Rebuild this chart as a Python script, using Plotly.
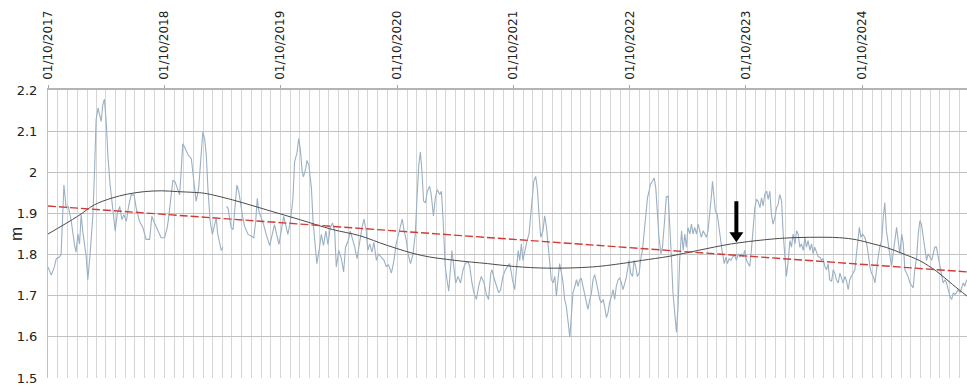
import pandas as pd
import plotly.graph_objects as go

# Daily-sampled water level record, expressed as days since 1 October 2017
START = pd.Timestamp("2017-10-01")

level_days = [
    0, 10, 20, 26, 36, 41, 50, 57, 64, 73, 83, 88, 94, 99, 104, 109, 120, 125, 132, 141,
    146, 151, 157, 162, 167, 172, 177, 183, 188, 195, 204, 211, 217, 225, 232, 238, 246, 253, 261, 270,
    277, 287, 298, 308, 319, 326, 332, 345, 355, 366, 374, 378, 387, 392, 399, 406, 413, 418, 423, 429,
    434, 441, 450, 458, 465, 473, 481, 486,
    492, 497, 502, 509, 516, 523, 528, 533, 539, 544, 549, 554, 560, 565, 570, 575, 581, 586, 593, 599,
    604, 610, 617, 628, 638, 646, 652, 657, 662, 669, 677, 685, 696, 704, 711, 719, 725, 732, 740, 746,
    753, 761, 769, 774, 782, 787, 792, 798, 802, 809, 813, 819, 827, 832, 837, 844, 851, 858, 865, 872,
    879, 886, 893, 900, 905, 913, 921, 928, 934, 942, 949, 955, 963, 970,
    978, 986, 992, 999, 1004, 1010, 1017, 1023, 1031, 1038, 1046, 1055, 1062, 1069, 1078, 1086, 1093, 1101,
    1107, 1112, 1118, 1125, 1130, 1138, 1146, 1153, 1159, 1164, 1169, 1174, 1179, 1185, 1191, 1198, 1203,
    1210, 1216, 1222, 1230, 1235, 1240, 1243, 1247, 1254, 1258, 1264, 1268, 1275, 1280, 1287, 1295, 1303,
    1310, 1319, 1324, 1331, 1337, 1345, 1352, 1360, 1369, 1376, 1383, 1390, 1394, 1400, 1408, 1415, 1421,
    1428, 1436, 1442, 1449, 1455,
    1458, 1465, 1470, 1476, 1481, 1486, 1491, 1497, 1504, 1510, 1517, 1525, 1531, 1536, 1542, 1547, 1554,
    1559, 1565, 1570, 1575, 1580, 1586, 1591, 1596, 1601, 1606, 1612, 1617, 1622, 1627, 1633, 1638, 1643,
    1648, 1654, 1659, 1664, 1669, 1674, 1680, 1685, 1690, 1695, 1701, 1706, 1711, 1716, 1722, 1727, 1732,
    1737, 1743, 1748, 1753, 1758, 1763, 1769, 1774, 1779, 1784, 1790, 1795, 1800, 1805, 1811, 1816, 1821,
    1824, 1829, 1835, 1840, 1845, 1850, 1856, 1860, 1866, 1871, 1877, 1882, 1887, 1891, 1897, 1903, 1908,
    1913, 1918, 1924, 1929, 1934,
    1941, 1947, 1952, 1957, 1962, 1968, 1973, 1978, 1983, 1989, 1994, 1999, 2004, 2009, 2015, 2020, 2025,
    2030, 2036, 2041, 2046, 2051, 2057, 2062, 2067, 2072, 2078, 2083, 2086, 2091, 2095, 2101, 2106, 2111,
    2116, 2123, 2128, 2133, 2138, 2144, 2149, 2156, 2161, 2167, 2172, 2177, 2182, 2187, 2193, 2198, 2203,
    2208, 2214, 2219, 2224, 2229, 2235, 2240, 2245, 2250, 2256, 2261, 2266, 2271, 2276, 2282, 2287, 2292,
    2297, 2303, 2308, 2313, 2318, 2324, 2329, 2334, 2339, 2345, 2350, 2355, 2360, 2365, 2371, 2376, 2381,
    2386, 2392, 2397, 2402, 2407, 2413, 2418,
    2423, 2428, 2433, 2439, 2444, 2449, 2454, 2460, 2465, 2470, 2475, 2481, 2486, 2491, 2496, 2502, 2507,
    2512, 2517, 2522, 2528, 2533, 2538, 2543, 2547, 2552, 2557, 2564, 2570, 2575, 2580, 2585, 2591, 2596,
    2601, 2606, 2611, 2617, 2622, 2627, 2632, 2638, 2643, 2648, 2653, 2659, 2664, 2669, 2674, 2680, 2685,
    2690, 2695, 2700, 2706, 2711, 2716, 2721, 2727, 2732, 2737, 2742, 2748, 2753, 2758, 2763, 2768, 2774,
    2779, 2784, 2789, 2795, 2800, 2805, 2810, 2816, 2821, 2826, 2831, 2837, 2842, 2847, 2852, 2857, 2863,
    2868, 2873, 2878, 2884,
]

# Level in metres; None marks the short gap in the record
level_m = [
    1.770, 1.750, 1.770, 1.790, 1.794, 1.800, 1.969, 1.913, 1.917, 1.881, 1.825, 1.806, 1.850, 1.825, 1.897, 1.857, 1.794, 1.739, 1.800, 1.897,
    2.000, 2.128, 2.156, 2.140, 2.124, 2.164, 2.178, 2.120, 2.040, 1.969, 1.897, 1.857, 1.897, 1.917, 1.885, 1.897, 1.881, 1.917, 1.945, 1.945,
    1.913, 1.881, 1.865, 1.837, 1.837, 1.893, 1.881, 1.857, 1.841, 1.841, 1.865, 1.885, 1.957, 1.981, 1.977, 1.961, 1.945, 2.001, 2.069, 2.061,
    2.053, 2.041, 2.033, 1.969, 1.929, 1.961, 2.041, 2.098,
    2.080, 2.040, 1.961, 1.881, 1.849, 1.869, 1.889, 1.849, 1.825, 1.810, 1.818, None, 1.917, 1.913, 1.889, 1.865, 1.861, 1.913, 1.969, 1.953,
    1.921, 1.897, 1.869, 1.849, 1.845, 1.841, 1.881, 1.937, 1.905, 1.889, 1.873, 1.849, 1.822, 1.849, 1.873, 1.845, 1.825, 1.857, 1.893, 1.873,
    1.849, 1.881, 1.937, 2.025, 2.049, 2.082, 2.057, 2.001, 1.989, 2.009, 2.029, 2.017, 1.961, 1.881, 1.841, 1.778, 1.810, 1.849, 1.822, 1.857,
    1.825, 1.865, 1.877, 1.857, 1.770, 1.810, 1.790, 1.758, 1.818, 1.833, 1.857, 1.841, 1.818, 1.790,
    1.834, 1.866, 1.886, 1.858, 1.810, 1.826, 1.806, 1.830, 1.786, 1.802, 1.794, 1.786, 1.771, 1.775, 1.755, 1.786, 1.826, 1.850,
    1.866, 1.886, 1.858, 1.834, 1.802, 1.778, 1.802, 1.850, 1.946, 2.018, 2.049, 2.002, 1.930, 1.926, 1.954, 1.966, 1.946,
    1.894, 1.938, 1.958, 1.946, 1.954, 1.890, 1.842, 1.771, 1.731, 1.711, 1.771, 1.810, 1.763, 1.731, 1.747, 1.731, 1.763,
    1.778, 1.782, 1.771, 1.731, 1.707, 1.691, 1.723, 1.747, 1.731, 1.703, 1.691, 1.755, 1.763, 1.743, 1.723, 1.707, 1.715,
    1.747, 1.763, 1.771, 1.778, 1.755,
    1.739, 1.715, 1.763, 1.810, 1.786, 1.826, 1.786, 1.810, 1.834, 1.850, 1.914, 1.978, 1.990, 1.962, 1.890, 1.842, 1.858,
    1.894, 1.866, 1.818, 1.786, 1.739, 1.731, 1.747, 1.699, 1.731, 1.778, 1.755, 1.731, 1.691, 1.675, 1.635, 1.599, 1.651,
    1.707, 1.723, 1.739, 1.723, 1.739, 1.743, 1.723, 1.699, 1.683, 1.667, 1.691, 1.707, 1.739, 1.751, 1.731, 1.707, 1.691,
    1.683, 1.691, 1.671, 1.647, 1.659, 1.683, 1.699, 1.715, 1.691, 1.723, 1.739, 1.743, 1.731, 1.715, 1.731, 1.747, 1.771,
    1.786, 1.755, 1.747, 1.786, 1.771, 1.747, 1.755, 1.786, 1.810, 1.850, 1.906, 1.938, 1.954, 1.970, 1.978, 1.986, 1.962,
    1.898, 1.842, 1.802, 1.818, 1.866,
    1.940, 1.942, 1.882, 1.794, 1.707, 1.643, 1.611, 1.675, 1.786, 1.858, 1.810, 1.850, 1.818, 1.866, 1.850, 1.874, 1.850,
    1.866, 1.850, 1.874, 1.858, 1.842, 1.858, 1.850, 1.842, 1.858, 1.898, 1.946, 1.978, 1.938, 1.906, 1.898, 1.866, 1.834,
    1.810, 1.778, 1.794, 1.778, 1.790, 1.786, 1.794, 1.798, 1.786, 1.802, 1.794, 1.802, 1.794, 1.810, 1.786, 1.778, 1.771,
    1.810, 1.874, 1.914, 1.934, 1.930, 1.914, 1.938, 1.918, 1.946, 1.954, 1.934, 1.954, 1.898, 1.874, 1.890, 1.914, 1.922,
    1.946, 1.930, 1.850, 1.786, 1.747, 1.786, 1.834, 1.818, 1.850, 1.826, 1.858, 1.850, 1.818, 1.826, 1.810, 1.842, 1.818,
    1.834, 1.810, 1.826, 1.802, 1.818, 1.802, 1.794,
    1.794, 1.786, 1.790, 1.771, 1.763, 1.778, 1.739, 1.735, 1.763, 1.755, 1.739, 1.731, 1.755, 1.743, 1.731, 1.747, 1.735,
    1.715, 1.739, 1.747, 1.755, 1.763, 1.802, 1.842, 1.866, 1.842, 1.850, 1.842, 1.826, 1.802, 1.771, 1.755, 1.747, 1.731,
    1.771, 1.794, 1.818, 1.834, 1.890, 1.926, 1.858, 1.826, 1.794, 1.771, 1.802, 1.842, 1.866, 1.834, 1.802, 1.850, 1.826,
    1.763, 1.755, 1.747, 1.731, 1.723, 1.719, 1.763, 1.794, 1.850, 1.882, 1.874, 1.842, 1.810, 1.786, 1.802, 1.794, 1.786,
    1.802, 1.818, 1.818, 1.794, 1.771, 1.747, 1.731, 1.739, 1.731, 1.715, 1.699, 1.691, 1.707, 1.703, 1.707, 1.715, 1.707,
    1.719, 1.731, 1.723, 1.739,
]

# Linear trend (start and end of the period)
linear_days = [0, 2885]
linear_m = [1.918, 1.758]

# Polynomial trend curve
poly_days = [0, 93, 146, 199, 250, 303, 356, 407, 460, 491, 579, 685, 790, 893, 978, 1066, 1172, 1277,
             1380, 1465, 1569, 1710, 1817, 1866, 1952, 2040, 2146, 2250, 2313, 2391, 2485, 2538, 2590,
             2633, 2684, 2737, 2790, 2840, 2885]
poly_m = [1.850, 1.893, 1.921, 1.937, 1.947, 1.953, 1.955, 1.953, 1.951, 1.949, 1.933, 1.909, 1.885,
          1.861, 1.846, 1.822, 1.798, 1.786, 1.778, 1.771, 1.767, 1.770, 1.780, 1.786, 1.796, 1.810,
          1.826, 1.836, 1.840, 1.842, 1.841, 1.836, 1.826, 1.817, 1.802, 1.785, 1.759, 1.727, 1.699]

# Event marker (arrow pointing down onto the trend curve)
marker_date = "2023-09-01"
marker_level = 1.830

X_START, X_END = "2017-10-01", "2025-08-25"
Y_MIN, Y_MAX = 1.5, 2.2


def to_dates(days):
    return [(START + pd.Timedelta(days=d)).strftime("%Y-%m-%d") for d in days]


fig = go.Figure()

fig.add_trace(go.Scatter(
    x=to_dates(level_days), y=level_m, mode="lines",
    line=dict(color="#9bb0c4", width=1.1), connectgaps=False,
    hoverinfo="skip", showlegend=False,
))
fig.add_trace(go.Scatter(
    x=to_dates(poly_days), y=poly_m, mode="lines", line_shape="spline",
    line=dict(color="#4a4a4a", width=1), hoverinfo="skip", showlegend=False,
))
fig.add_trace(go.Scatter(
    x=to_dates(linear_days), y=linear_m, mode="lines",
    line=dict(color="#d23a35", width=1.4, dash="8px,3px"),
    hoverinfo="skip", showlegend=False,
))

# Downward arrow, tip anchored on the marker position, sized in pixels
fig.add_shape(
    type="path", xref="x", yref="y", xsizemode="pixel", ysizemode="pixel",
    xanchor=marker_date, yanchor=marker_level,
    path="M 0 0 L -7 10 L -2 10 L -2 41 L 2 41 L 2 10 L 7 10 Z",
    fillcolor="black", line=dict(width=0), layer="above",
)

# Vertical axis title
fig.add_annotation(
    text="m", textangle=-90, xref="paper", yref="paper", x=0, y=0.5,
    xanchor="center", yanchor="middle", xshift=-32, showarrow=False,
    font=dict(family="Liberation Sans", size=17, color="#222222"),
)

fig.update_layout(
    width=967, height=386,
    margin=dict(l=48, r=0, t=90, b=3),
    paper_bgcolor="white", plot_bgcolor="white",
    font=dict(family="DejaVu Sans", color="#222222"),
    xaxis=dict(
        type="date", range=[X_START, X_END], side="top",
        tick0="2017-10-01", dtick="M12", tickformat="%d/%m/%Y", tickangle=-90,
        tickfont=dict(size=12),
        ticks="outside", ticklen=3, tickcolor="#a6a6a6", ticklabelstandoff=3,
        showgrid=True, gridcolor="#d6d6d6", gridwidth=1,
        minor=dict(dtick="M1", tick0="2017-10-01", showgrid=True, gridcolor="#d6d6d6", gridwidth=1, ticks=""),
        showline=True, linecolor="#b4b4b4", linewidth=1.5,
        zeroline=False, fixedrange=True,
    ),
    yaxis=dict(
        range=[Y_MIN, Y_MAX], dtick=0.1, tick0=1.5,
        tickfont=dict(size=13), ticks="", ticklabelstandoff=7,
        ticklabeloverflow="allow",
        showgrid=True, gridcolor="#c2c2c2", gridwidth=1,
        showline=True, linecolor="#c2c2c2", linewidth=1,
        zeroline=False, fixedrange=True,
    ),
)

fig.write_html("out.html")
